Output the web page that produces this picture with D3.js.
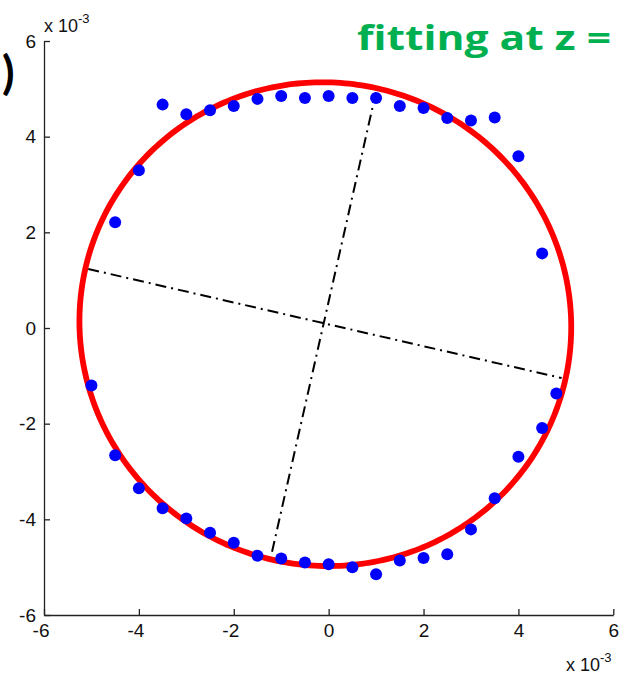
<!DOCTYPE html>
<html>
<head>
<meta charset="utf-8">
<script src="https://cdn.jsdelivr.net/npm/d3@7"></script>
<style>
  body { margin: 0; background: #fff; }
  svg { display: block; }
</style>
</head>
<body>
<svg id="chart" width="623" height="676"></svg>
<script>
// Tick values (axes are in units of 1e-3)
const xTicks = [-6, -4, -2, 0, 2, 4, 6];
const yTicks = [-6, -4, -2, 0, 2, 4, 6];
const scaleExponent = "-3";

// Measured contour points (x, y) in units of 1e-3
const pointsX = [-3.5, -3, -2.5, -2, -1.5, -1, -0.5, 0, 0.5, 1, 1.5, 2, 2.5, 3, 3.5, 4, 4.5,
                 4.8, 4.5, 4, 3.5, 3, 2.5, 2, 1.5, 1, 0.5, 0, -0.5, -1, -1.5, -2, -2.5, -3, -3.5, -4, -4.5, -5,
                 -4.5, -4];
const pointsY = [4.67, 4.47, 4.55, 4.64, 4.79, 4.85, 4.81, 4.85, 4.81, 4.81, 4.64, 4.60, 4.39, 4.34, 4.40, 3.59, 1.56,
                 -1.37, -2.09, -2.69, -3.56, -4.21, -4.73, -4.81, -4.86, -5.15, -5.00, -4.94, -4.90, -4.82, -4.76, -4.49, -4.28, -3.98, -3.77, -3.35, -2.66, -1.20,
                 2.21, 3.30];

// Fitted ellipse: centre, semi-axes and rotation
const fitCenter = [-0.07, 0.08];
const fitSemiAxes = [5.19, 5.05];
const fitAngleDeg = -12.9;

// Principal axes of the fit, drawn as dash-dot segments (start / end points)
const axisStartX = [-5.067, 0.997];
const axisStartY = [1.234, 4.927];
const axisEndX = [4.911, -1.216];
const axisEndY = [-1.046, -4.778];

const titleText = "fitting at z =";

const svg = d3.select("#chart");

const x = d3.scaleLinear().domain([-6, 6]).range([44, 613.3]);
const y = d3.scaleLinear().domain([-6, 6]).range([615, 41]);

const axisColor = "#222";
const tickFont = "'Liberation Sans', Arial, sans-serif";
const plainFormat = d => String(d);

// X axis with inward ticks
const gx = svg.append("g")
  .attr("transform", `translate(0,${y(-6)})`)
  .call(d3.axisBottom(x).tickValues(xTicks).tickSizeInner(-6).tickSizeOuter(0).tickPadding(9).tickFormat(plainFormat));
gx.selectAll("text")
  .attr("font-family", tickFont).attr("font-size", 19).attr("fill", "#111")
  .each(function(d) {
    if (d < 0) d3.select(this).attr("text-anchor", "end").attr("x", 5);
  });

// Y axis with inward ticks
const gy = svg.append("g")
  .attr("transform", `translate(${x(-6)},0)`)
  .call(d3.axisLeft(y).tickValues(yTicks).tickSizeInner(-6).tickSizeOuter(0).tickPadding(8).tickFormat(plainFormat));
gy.selectAll("text")
  .attr("font-family", tickFont).attr("font-size", 19).attr("fill", "#111");

[gx, gy].forEach(g => {
  g.select(".domain").attr("stroke", axisColor).attr("stroke-width", 1.3);
  g.selectAll(".tick line").attr("stroke", axisColor).attr("stroke-width", 1.3);
});

// Exponent labels ("x 10^-3")
function exponentLabel(px, baseline) {
  const t = svg.append("text")
    .attr("x", px).attr("y", baseline)
    .attr("font-family", tickFont).attr("font-size", 18).attr("fill", "#111");
  t.append("tspan").text("x 10");
  t.append("tspan").attr("dy", -9).attr("font-size", 13).text(scaleExponent);
}
exponentLabel(44, 31.5);
exponentLabel(566, 670.5);

// Fitted ellipse as a closed path
const th = fitAngleDeg * Math.PI / 180;
const angles = d3.range(0, 361, 1).map(a => a * Math.PI / 180);
const ellipsePts = angles.map(t => {
  const ex = fitSemiAxes[0] * Math.cos(t), ey = fitSemiAxes[1] * Math.sin(t);
  return [fitCenter[0] + ex * Math.cos(th) - ey * Math.sin(th),
          fitCenter[1] + ex * Math.sin(th) + ey * Math.cos(th)];
});
svg.append("path")
  .datum(ellipsePts)
  .attr("d", d3.line().x(d => x(d[0])).y(d => y(d[1])).curve(d3.curveLinearClosed))
  .attr("fill", "none").attr("stroke", "#ff0000").attr("stroke-width", 5.8)
  .attr("stroke-linejoin", "round");

// Principal axes
svg.append("g").selectAll("line")
  .data(d3.range(axisStartX.length))
  .join("line")
  .attr("x1", i => x(axisStartX[i])).attr("y1", i => y(axisStartY[i]))
  .attr("x2", i => x(axisEndX[i])).attr("y2", i => y(axisEndY[i]))
  .attr("stroke", "#000").attr("stroke-width", 2)
  .attr("stroke-dasharray", "11,5,2,5");

// Contour points
svg.append("g").selectAll("circle")
  .data(d3.range(pointsX.length))
  .join("circle")
  .attr("cx", i => x(pointsX[i])).attr("cy", i => y(pointsY[i]))
  .attr("r", 6).attr("fill", "#0000ff");

// Panel annotation
svg.append("text")
  .attr("x", 357).attr("y", 50)
  .attr("font-family", "'Open Sans', Lato, sans-serif").attr("font-weight", "bold")
  .attr("font-size", 34).attr("fill", "#00b050")
  .style("font-variant-ligatures", "none")
  .attr("textLength", 254).attr("lengthAdjust", "spacingAndGlyphs")
  .text(titleText);

svg.append("text")
  .attr("x", 2).attr("y", 89)
  .attr("font-family", "Lato, 'Open Sans', sans-serif").attr("font-weight", "bold")
  .attr("font-size", 46).attr("fill", "#000")
  .text(")");
</script>
</body>
</html>
